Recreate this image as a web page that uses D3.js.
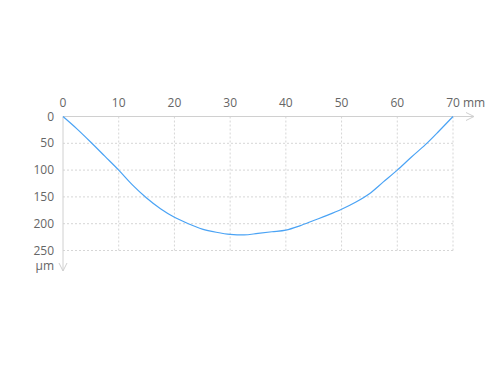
<!DOCTYPE html>
<html lang="en">
<head>
<meta charset="UTF-8">
<title>Profile</title>
<script src="https://d3js.org/d3.v7.min.js"></script>
<style>
  body { margin: 0; background: #fff; }
  text { font-family: "Open Sans", sans-serif; font-size: 12px; fill: #666; }
</style>
</head>
<body>
<script>
    const width = 486;
    const height = 370;

    // profile data: position (mm) vs depth (µm)
    const positions = [0, 2.5, 5, 7.5, 10, 12.5, 15, 17.5, 20, 22.5, 25, 27.5, 30, 32.5, 35,
        37.5, 40, 42.5, 45, 47.5, 50, 52.5, 55, 57.5, 60, 62.5, 65, 67.5, 70];
    const depths = [0, 23, 48, 74, 100, 128, 152, 172, 188, 200, 210, 216, 220, 221, 218,
        215, 212, 204, 194, 184, 173, 160, 144, 122, 100, 76, 53, 27, 0];
    const xTicks = [0, 10, 20, 30, 40, 50, 60, 70];
    const yTicks = [0, 50, 100, 150, 200, 250];

    const x = d3.scaleLinear().domain([0, 70]).range([63, 453]);
    const y = d3.scaleLinear().domain([0, 250]).range([116.5, 250.5]);

    const svg = d3.select("body").append("svg")
        .attr("width", width).attr("height", height);

    // grid
    svg.append("g").selectAll("line").data(xTicks.slice(1)).join("line")
        .attr("x1", d => x(d)).attr("x2", d => x(d))
        .attr("y1", y(0)).attr("y2", y(250))
        .attr("stroke", "#d6d6d6").attr("stroke-dasharray", "2,2");
    svg.append("g").selectAll("line").data(yTicks.slice(1)).join("line")
        .attr("x1", x(0)).attr("x2", x(70))
        .attr("y1", d => y(d)).attr("y2", d => y(d))
        .attr("stroke", "#d6d6d6").attr("stroke-dasharray", "2,2");

    // axes with arrows
    svg.append("line").attr("x1", x(0)).attr("x2", 474)
        .attr("y1", y(0)).attr("y2", y(0)).attr("stroke", "#d0d0d0");
    svg.append("path").attr("d", `M466,${y(0) - 4}L474,${y(0)}L466,${y(0) + 4}`)
        .attr("fill", "none").attr("stroke", "#d0d0d0");
    svg.append("line").attr("x1", x(0)).attr("x2", x(0))
        .attr("y1", y(0)).attr("y2", 271).attr("stroke", "#d0d0d0");
    svg.append("path").attr("d", `M${x(0) - 4},263L${x(0)},271L${x(0) + 4},263`)
        .attr("fill", "none").attr("stroke", "#d0d0d0");

    // tick labels
    svg.append("g").selectAll("text").data(xTicks).join("text")
        .attr("x", d => x(d)).attr("y", 107)
        .attr("text-anchor", "middle")
        .text(d => d);
    svg.append("text").attr("x", x(70) + 10).attr("y", 107).text("mm");

    svg.append("g").selectAll("text").data(yTicks).join("text")
        .attr("x", 54).attr("y", d => y(d) + 4)
        .attr("text-anchor", "end")
        .text(d => d);
    svg.append("text").attr("x", 54).attr("y", 270).attr("text-anchor", "end").text("µm");

    // profile line
    const line = d3.line()
        .x((d, i) => x(positions[i]))
        .y(d => y(d))
        .curve(d3.curveMonotoneX);
    svg.append("path").datum(depths)
        .attr("d", line)
        .attr("fill", "none")
        .attr("stroke", "#4aa3f5")
        .attr("stroke-width", 1.2);
</script>
</body>
</html>
